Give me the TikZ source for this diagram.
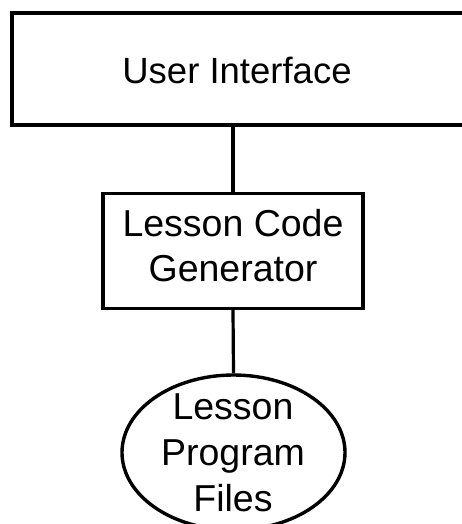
\documentclass[tikz,border=0pt]{standalone}
\usepackage{fontspec}
\setmainfont{Liberation Sans}
\usetikzlibrary{shapes.geometric}
\begin{document}
\begin{tikzpicture}[x=1pt,y=1pt,
  box/.style={draw=black,line width=3.4pt,fill=white,inner sep=0pt},
  label/.style={font=\fontsize{37.5}{45}\selectfont,align=center,inner sep=0pt},
  link/.style={draw=black,line width=3.2pt}]
\useasboundingbox (0,0) rectangle (461,-524);
\node[box,minimum width=462pt,minimum height=112pt] (ui) at (243,-69) {};
\node[label,font=\fontsize{36.5}{45}\selectfont] (uit) at (237,-70) {User Interface};
\node[box,minimum width=260pt,minimum height=115pt] (gen) at (233,-251) {};
\node[label] (gent) at (233,-246) {Lesson Code\\Generator};
\node[box,ellipse,minimum width=223pt,minimum height=155pt] (files) at (233.5,-452.5) {};
\node[label,font=\fontsize{37.5}{46}\selectfont] (filest) at (233,-453) {Lesson\\Program\\Files};
\draw[link] (ui.south -| gen.north) -- (gen.north);
\draw[link] (gen.south) -- (files.north);
\end{tikzpicture}
\end{document}
